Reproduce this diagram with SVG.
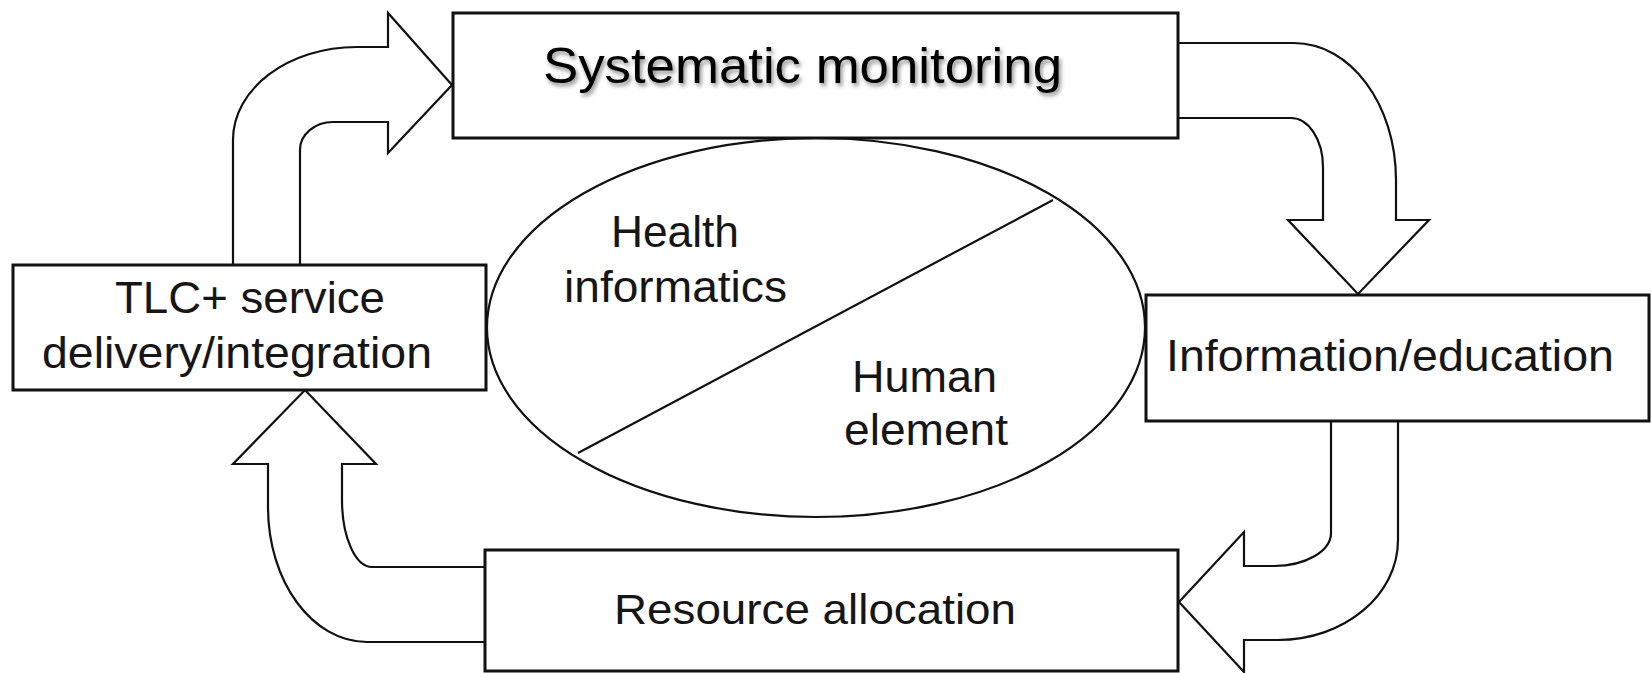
<svg xmlns="http://www.w3.org/2000/svg" width="1651" height="673" viewBox="0 0 1651 673">
  <style>
    .box { fill: #ffffff; stroke: #111111; stroke-width: 3; }
    .flow { fill: #ffffff; stroke: #111111; stroke-width: 2.2; stroke-linejoin: miter; }
    .core { fill: none; stroke: #111111; stroke-width: 2.2; }
    .lbl { font-family: "Liberation Sans", Arial, Helvetica, sans-serif; font-size: 44px; fill: #161616; }
    .title { font-family: "Liberation Sans", Arial, Helvetica, sans-serif; font-size: 50px; fill: #000000; filter: url(#shadow); }
  </style>
  <defs>
    <filter id="shadow" x="-10%" y="-30%" width="120%" height="170%">
      <feDropShadow dx="2" dy="3" stdDeviation="2" flood-color="#000000" flood-opacity="0.45"/>
    </filter>
  </defs>

  <rect width="1651" height="673" fill="#ffffff"/>

  <!-- curved block arrows linking the four stages -->
  <g id="connectors">
    <!-- service delivery -> systematic monitoring -->
    <path class="flow" d="M233,265 L233,140 C233,88.6 288.5,47 357,47 L388,47 L388,13 L452,85 L388,153 L388,122 L333,122 C314.8,122 300,134.5 300,150 L300,265"/>
    <!-- systematic monitoring -> information/education -->
    <path class="flow" d="M1178,43 L1294,43 C1350.3,43 1396,104.3 1396,180 L1396,220 L1429,220 L1358,294 L1288,220 L1323,220 L1323,167 C1323,139.9 1308.7,118 1291,118 L1178,118"/>
    <!-- information/education -> resource allocation -->
    <path class="flow" d="M1331,421 L1331,533 C1331,551.2 1305.5,566 1274,566 L1244,566 L1244,532 L1179,602 L1244,672 L1244,640 L1278,640 C1344.3,640 1398,595.2 1398,540 L1398,421"/>
    <!-- resource allocation -> service delivery -->
    <path class="flow" d="M485,642 L367,642 C312.3,642 268,581.6 268,507 L268,464 L233,464 L305,390 L376,464 L342,464 L342,500 C342,537 355.4,567 372,567 L485,567"/>
  </g>

  <g id="node-monitoring">
    <rect class="box" x="453" y="13" width="725" height="125"/>
    <text class="title" x="543" y="83" textLength="519" lengthAdjust="spacingAndGlyphs">Systematic monitoring</text>
  </g>

  <g id="node-service">
    <rect class="box" x="13" y="265" width="473" height="125"/>
    <text class="lbl" x="115" y="313" textLength="270" lengthAdjust="spacingAndGlyphs">TLC+ service</text>
    <text class="lbl" x="42" y="368" textLength="390" lengthAdjust="spacingAndGlyphs">delivery/integration</text>
  </g>

  <g id="node-information">
    <rect class="box" x="1146" y="295" width="503" height="126"/>
    <text class="lbl" x="1166" y="371" textLength="448" lengthAdjust="spacingAndGlyphs">Information/education</text>
  </g>

  <g id="node-resources">
    <rect class="box" x="485" y="550" width="693" height="121"/>
    <text class="lbl" x="614" y="624" font-size="42" style="font-size:42px" textLength="402" lengthAdjust="spacingAndGlyphs">Resource allocation</text>
  </g>

  <g id="node-core">
    <ellipse class="core" cx="816" cy="327.5" rx="329" ry="189.5"/>
    <line class="core" x1="578" y1="453" x2="1053" y2="200"/>
    <text class="lbl" x="611" y="247" textLength="128" lengthAdjust="spacingAndGlyphs">Health</text>
    <text class="lbl" x="564" y="302" textLength="223" lengthAdjust="spacingAndGlyphs">informatics</text>
    <text class="lbl" x="852" y="392" textLength="145" lengthAdjust="spacingAndGlyphs">Human</text>
    <text class="lbl" x="844" y="445" textLength="164" lengthAdjust="spacingAndGlyphs">element</text>
  </g>
</svg>
